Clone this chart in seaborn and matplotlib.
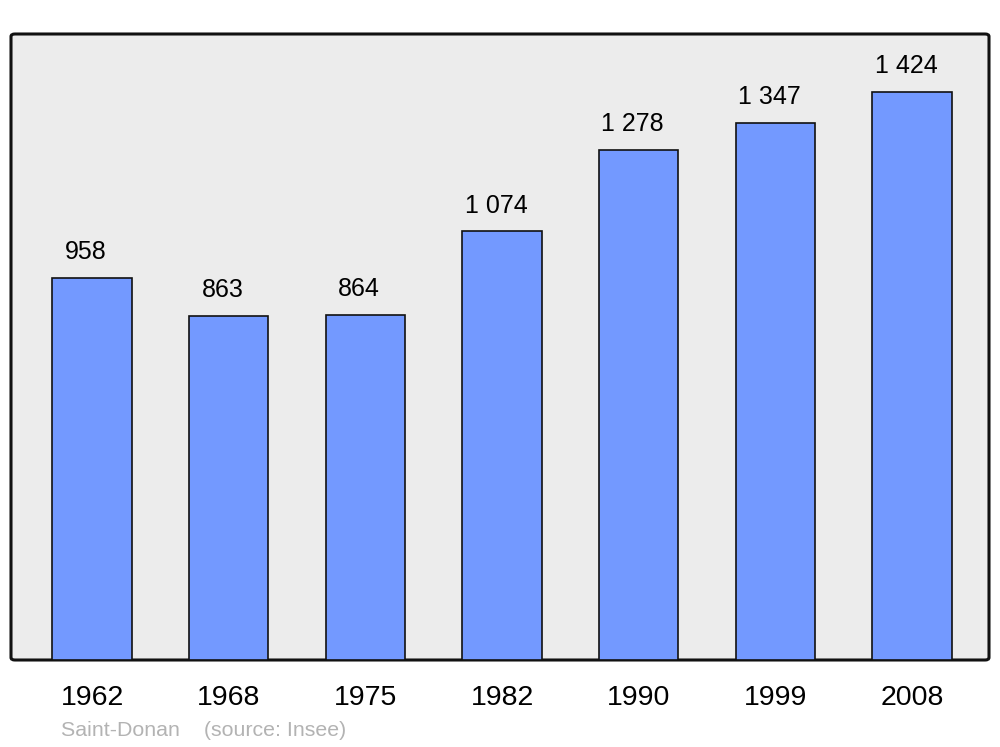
import matplotlib.pyplot as plt
import pandas as pd
import seaborn as sns
from matplotlib.patches import FancyBboxPatch

# Population data for Saint-Donan
years = ['1962', '1968', '1975', '1982', '1990', '1999', '2008']
population = [958, 863, 864, 1074, 1278, 1347, 1424]
value_labels = ['958', '863', '864', '1 074', '1 278', '1 347', '1 424']

df = pd.DataFrame({'year': years, 'pop': population})

sns.set_style('white')
plt.rcParams['font.family'] = ['Liberation Sans', 'DejaVu Sans']

fig = plt.figure(figsize=(10, 7.47), dpi=100)
ax = fig.add_axes([0.011, 87 / 747, 0.978, 626 / 747])
ax.set_facecolor('none')

# rounded background frame
frame = FancyBboxPatch((0, 0), 1, 1, boxstyle='round,pad=0,rounding_size=0.004',
                       transform=ax.transAxes, facecolor='#ececec',
                       edgecolor='#111111', linewidth=2.2, zorder=0, clip_on=False)
ax.add_patch(frame)

sns.barplot(data=df, x='year', y='pop', ax=ax, color='#7399ff', saturation=1,
            width=0.58, edgecolor='#111111', linewidth=1.2, zorder=2)

for i, (v, lab) in enumerate(zip(population, value_labels)):
    ax.annotate(lab, (i - 0.045, v), xytext=(0, 10), textcoords='offset points',
                ha='center', va='bottom', fontsize=18, color='black')

ax.set_xlim(-0.593, 6.563)
ax.set_ylim(0, 1569)
for s in ax.spines.values():
    s.set_visible(False)
ax.set_yticks([])
ax.set_xlabel('')
ax.set_ylabel('')
ax.tick_params(axis='x', length=0, labelsize=20.5, pad=18, labelcolor='black')

fig.text(0.061, 1 - 731 / 747, 'Saint-Donan    (source: Insee)', fontsize=15.4,
         color='#b3b3b3', va='center', ha='left')

fig.savefig('out.png', dpi=100)
